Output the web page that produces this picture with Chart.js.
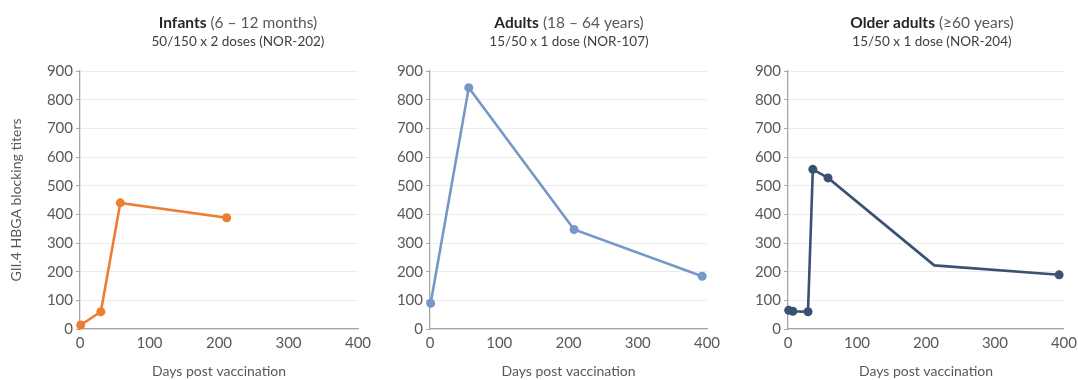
<!DOCTYPE html>
<html><head><meta charset="utf-8">
<script src="https://cdn.jsdelivr.net/npm/chart.js@4/dist/chart.umd.min.js"></script>
<style>
html,body{margin:0;padding:0;background:#fff;width:1078px;height:380px;overflow:hidden;}
.p{position:absolute;top:0;height:380px;}
</style></head><body>
<div class="p" style="left:0;width:375px"><canvas id="c1"></canvas></div>
<div class="p" style="left:360px;width:362px"><canvas id="c2"></canvas></div>
<div class="p" style="left:718px;width:360px"><canvas id="c3"></canvas></div>
<script>
// Data (days post vaccination, GII.4 HBGA blocking titers)
const infantsDays   = [1, 30, 58, 211];
const infantsTiters = [14, 60, 440, 388];
const adultsDays    = [1, 56, 208, 393];
const adultsTiters  = [90, 842, 347, 184];
const olderDays     = [1, 7, 29, 36, 58, 212, 393];
const olderTiters   = [65, 62, 60, 557, 527, 222, 189];
const olderMarkers  = [1, 1, 1, 1, 1, 0, 1];
const yTicks = [0,100,200,300,400,500,600,700,800,900];
const xTicks = [0,100,200,300,400];
const titles = [
  {bold:'Infants', rest:' (6 – 12 months)', sub:'50/150 x 2 doses (NOR-202)'},
  {bold:'Adults', rest:' (18 – 64 years)', sub:'15/50 x 1 dose (NOR-107)'},
  {bold:'Older adults', rest:' (≥60 years)', sub:'15/50 x 1 dose (NOR-204)'}
];

const FONT = 'Lato, "Open Sans", sans-serif';
const TXT = '#595959';

function titlePlugin(t, cx){
  return {
    id:'panelTitle',
    afterDraw(chart){
      const ctx = chart.ctx;
      ctx.save();
      ctx.textBaseline = 'middle';
      ctx.font = 'bold 15.5px ' + FONT;
      const wb = ctx.measureText(t.bold).width;
      ctx.font = '15.5px ' + FONT;
      const wr = ctx.measureText(t.rest).width;
      let x = cx - (wb+wr)/2;
      ctx.textAlign = 'left';
      ctx.font = 'bold 15.5px ' + FONT;
      ctx.fillStyle = '#262626';
      ctx.fillText(t.bold, x, 23);
      ctx.font = '15.5px ' + FONT;
      ctx.fillStyle = TXT;
      ctx.fillText(t.rest, x+wb, 23);
      ctx.textAlign = 'center';
      ctx.font = '13.5px ' + FONT;
      ctx.fillStyle = '#404040';
      ctx.fillText(t.sub, cx, 42);
      ctx.restore();
    }
  };
}

function make(id, days, titers, color, yWidth, rightPad, title, cx, showYTitle, radii){
  const pts = days.map((d,i)=>({x:d, y:titers[i]}));
  new Chart(document.getElementById(id), {
    type:'line',
    data:{datasets:[{
      data:pts, borderColor:color, backgroundColor:color,
      borderWidth:2.6, pointRadius: radii ? radii.map(r=>r?4.5:0) : 4.5,
      pointBorderWidth:0, pointHoverRadius:4.5, tension:0, clip:false
    }]},
    options:{
      responsive:true, maintainAspectRatio:false, animation:false,
      devicePixelRatio:1,
      layout:{padding:{top:71, right:rightPad, bottom:0, left:0}},
      plugins:{legend:{display:false}, tooltip:{enabled:false}},
      scales:{
        x:{type:'linear', min:0, max:400,
          afterBuildTicks(s){ s.ticks = xTicks.map(v=>({value:v})); },
          afterFit(s){ s.height = 51; },
          grid:{display:false, drawOnChartArea:false, drawTicks:true, tickLength:4, tickColor:'#a6a6a6'},
          border:{display:true, color:'#a6a6a6', width:1.3},
          ticks:{color:TXT, font:{family:FONT, size:15}, padding:1, maxRotation:0},
          title:{display:true, text:'Days post vaccination', color:TXT, font:{family:FONT, size:14}, padding:{top:9, bottom:0}}
        },
        y:{type:'linear', min:0, max:900,
          afterBuildTicks(s){ s.ticks = yTicks.map(v=>({value:v})); },
          afterFit(s){ s.width = yWidth; },
          grid:{color:'#ececec', lineWidth:1, drawTicks:true, tickLength:4, tickColor:'#a6a6a6'},
          border:{display:true, color:'#a6a6a6', width:1.3},
          ticks:{color:TXT, font:{family:FONT, size:15}, padding:3},
          title:{display:showYTitle, text:'GII.4 HBGA blocking titers', color:TXT, font:{family:FONT, size:14}, padding:{top:8,bottom:4}}
        }
      }
    },
    plugins:[titlePlugin(title, cx)]
  });
}

make('c1', infantsDays, infantsTiters, '#ED7D31', 80, 17, titles[0], 238, true, null);
make('c2', adultsDays, adultsTiters, '#7698C8', 70, 15, titles[1], 209, false, null);
make('c3', olderDays, olderTiters, '#3A5272', 70, 13, titles[2], 214, false, olderMarkers);
</script>
</body></html>
